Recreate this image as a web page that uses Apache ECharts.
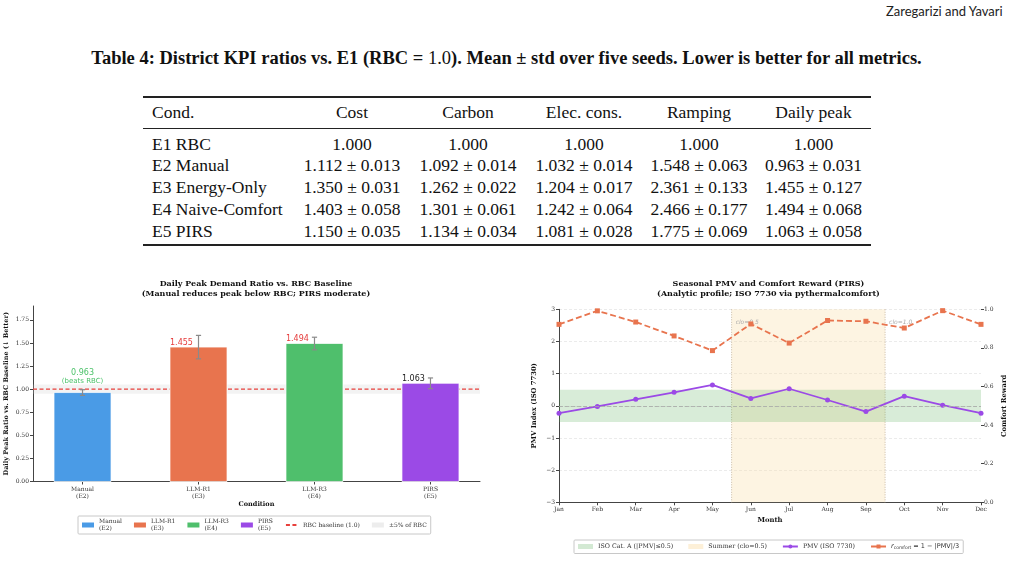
<!DOCTYPE html>
<html>
<head>
<meta charset="utf-8">
<script src="https://cdn.jsdelivr.net/npm/echarts@6/dist/echarts.min.js"></script>
<style>
  html,body{margin:0;padding:0;background:#fff;}
  #page{position:relative;width:1017px;height:561px;background:#fff;overflow:hidden;}
  .cell{position:absolute;white-space:nowrap;font-family:'Liberation Serif',serif;font-size:17.5px;color:#111;line-height:22px;height:22px;}
  .rule{position:absolute;left:143px;width:728px;background:#222;}
</style>
</head>
<body>
<div id="page">
  <div id="hdr" style="position:absolute;left:886px;top:3px;font-family:Lato,sans-serif;font-size:13px;color:#222;white-space:nowrap;">Zaregarizi and Yavari</div>
  <div id="caption" style="position:absolute;left:0;width:1013px;top:48px;text-align:center;font-family:'Liberation Serif',serif;font-weight:bold;font-size:18.5px;color:#111;white-space:nowrap;">Table 4: District KPI ratios vs. E1 (RBC = <span style="font-weight:normal">1.0</span>). Mean ± std over five seeds. Lower is better for all metrics.</div>
  <div id="table"></div>
  <div id="left" style="position:absolute;left:0;top:270px;width:512px;height:291px;"></div>
  <div id="right" style="position:absolute;left:520px;top:270px;width:497px;height:291px;"></div>
</div>
<script>
// ---------------- Table data ----------------
const tableColumns = ['Cond.', 'Cost', 'Carbon', 'Elec. cons.', 'Ramping', 'Daily peak'];
const tableConds = ['E1 RBC', 'E2 Manual', 'E3 Energy-Only', 'E4 Naive-Comfort', 'E5 PIRS'];
const costCol = ['1.000', '1.112 ± 0.013', '1.350 ± 0.031', '1.403 ± 0.058', '1.150 ± 0.035'];
const carbonCol = ['1.000', '1.092 ± 0.014', '1.262 ± 0.022', '1.301 ± 0.061', '1.134 ± 0.034'];
const elecCol = ['1.000', '1.032 ± 0.014', '1.204 ± 0.017', '1.242 ± 0.064', '1.081 ± 0.028'];
const rampCol = ['1.000', '1.548 ± 0.063', '2.361 ± 0.133', '2.466 ± 0.177', '1.775 ± 0.069'];
const peakCol = ['1.000', '0.963 ± 0.031', '1.455 ± 0.127', '1.494 ± 0.068', '1.063 ± 0.058'];

// ---------------- Left chart data ----------------
const conditions = ['Manual\n(E2)', 'LLM-R1\n(E3)', 'LLM-R3\n(E4)', 'PIRS\n(E5)'];
const peakRatio = [0.963, 1.455, 1.494, 1.063];
const peakStd = [0.031, 0.127, 0.068, 0.058];
const peakNotes = ['(beats RBC)', '', '', ''];
const leftYTicks = [0, 0.25, 0.5, 0.75, 1.0, 1.25, 1.5, 1.75];
const rbcBaseline = 1.0;
const rbcBand = [0.95, 1.05];

// ---------------- Right chart data ----------------
const months = ['Jan', 'Feb', 'Mar', 'Apr', 'May', 'Jun', 'Jul', 'Aug', 'Sep', 'Oct', 'Nov', 'Dec'];
const pmv = [-0.23, -0.02, 0.20, 0.42, 0.65, 0.23, 0.53, 0.18, -0.18, 0.30, 0.02, -0.23];
const comfortReward = [0.922, 0.992, 0.934, 0.862, 0.786, 0.924, 0.825, 0.942, 0.938, 0.903, 0.993, 0.922];
const comfortBand = [-0.5, 0.5];
const summerRange = [4.5, 8.5];
const cloLabels = ['clo=0.5', 'clo=1.0'];

// ---------------- Build table ----------------
(function () {
  const t = document.getElementById('table');
  const colLefts = [143, 294, 410, 526, 642, 756];
  const colWidths = [151, 116, 116, 116, 114, 115];
  const cols = [tableConds, costCol, carbonCol, elecCol, rampCol, peakCol];
  function addCell(text, ci, cy) {
    const d = document.createElement('div');
    d.className = 'cell';
    d.textContent = text;
    d.style.top = (cy - 11) + 'px';
    if (ci === 0) {
      d.style.left = (colLefts[0] + 9) + 'px';
    } else {
      d.style.left = colLefts[ci] + 'px';
      d.style.width = colWidths[ci] + 'px';
      d.style.textAlign = 'center';
    }
    t.appendChild(d);
  }
  tableColumns.forEach((h, ci) => addCell(h, ci, 112));
  for (let r = 0; r < tableConds.length; r++) {
    const cy = 143.5 + r * 21.9;
    cols.forEach((col, ci) => addCell(col[r], ci, cy));
  }
  [[96, 1.6], [127.5, 0.9], [244, 1.6]].forEach(([y, h]) => {
    const d = document.createElement('div');
    d.className = 'rule';
    d.style.top = y + 'px';
    d.style.height = h + 'px';
    t.appendChild(d);
  });
})();

const SERIF = 'DejaVu Serif';
const SANS = 'DejaVu Sans';

// ---------------- Left chart ----------------
const barColors = ['#4a9be6', '#e8744e', '#4fbf6c', '#9b4ae6'];
const labelColors = ['#4cc26a', '#e53c3c', '#e53c3c', '#222222'];
const BAR_W = 57;

const leftChart = echarts.init(document.getElementById('left'));
const barSeries = peakRatio.map((v, i) => ({
  type: 'custom', name: conditions[i],
  data: [[i, v, peakStd[i]]],
  encode: {x: 0, y: 1},
  itemStyle: {color: barColors[i]},
  renderItem: (params, api) => {
    const x = api.value(0), val = api.value(1), sd = api.value(2);
    const base = api.coord([x, 0]);
    const top = api.coord([x, val]);
    const lo = api.coord([x, val - sd]);
    const hi = api.coord([x, val + sd]);
    const left = base[0] - BAR_W / 2;
    const c = 2.6;
    const st = {stroke: '#8a8a8a', lineWidth: 1.2};
    const children = [
      {type: 'rect', shape: {x: left, y: top[1], width: BAR_W, height: base[1] - top[1]},
        style: {fill: barColors[i], stroke: 'rgba(255,255,255,0.7)', lineWidth: 1}},
      {type: 'line', shape: {x1: lo[0], y1: lo[1], x2: hi[0], y2: hi[1]}, style: st},
      {type: 'line', shape: {x1: lo[0] - c, y1: lo[1], x2: lo[0] + c, y2: lo[1]}, style: st},
      {type: 'line', shape: {x1: hi[0] - c, y1: hi[1], x2: hi[0] + c, y2: hi[1]}, style: st}
    ];
    const txt = val.toFixed(3);
    if (peakNotes[i]) {
      children.push({type: 'text', x: base[0], y: top[1] - 19.5,
        style: {text: txt, fontFamily: SANS, fontSize: 8, fill: labelColors[i], align: 'center', verticalAlign: 'middle'}});
      children.push({type: 'text', x: base[0], y: top[1] - 11.5,
        style: {text: peakNotes[i], fontFamily: SANS, fontSize: 7, fill: labelColors[i], align: 'center', verticalAlign: 'middle'}});
    } else {
      children.push({type: 'text', x: left, y: top[1] - 0.5,
        style: {text: txt, fontFamily: SANS, fontSize: 8, fill: labelColors[i], align: 'left', verticalAlign: 'bottom'}});
    }
    return {type: 'group', children};
  },
  z: 3, silent: true
}));

leftChart.setOption({
  animation: false,
  title: {
    text: 'Daily Peak Demand Ratio vs. RBC Baseline\n(Manual reduces peak below RBC; PIRS moderate)',
    left: 'center', top: 8.5, padding: 0,
    textStyle: {fontFamily: SERIF, fontWeight: 'bold', fontSize: 8, lineHeight: 10.5, color: '#111'}
  },
  grid: {left: 33, top: 36, width: 447, height: 175.5, containLabel: false, outerBoundsMode: 'none'},
  legend: {
    left: 78, top: 246, orient: 'horizontal',
    data: [...conditions.map(n => ({name: n, icon: 'rect'})), {name: 'RBC baseline (1.0)'}, {name: '±5% of RBC', icon: 'rect'}],
    itemWidth: 12, itemHeight: 5, itemGap: 12,
    borderColor: '#c8c8c8', borderWidth: 1, borderRadius: 1, padding: [2, 4],
    textStyle: {fontFamily: SERIF, fontSize: 6, color: '#333', lineHeight: 7}
  },
  xAxis: {
    type: 'value', min: -0.427, max: 3.427,
    axisLine: {show: true, onZero: false, lineStyle: {color: '#444', width: 1}},
    axisTick: {show: true, customValues: [0, 1, 2, 3], length: 3, lineStyle: {color: '#444'}},
    axisLabel: {customValues: [0, 1, 2, 3], formatter: v => conditions[Math.round(v)], fontFamily: SERIF, fontSize: 6, lineHeight: 7, color: '#333', margin: 4},
    splitLine: {show: false},
    name: 'Condition', nameLocation: 'middle', nameGap: 19, nameMoveOverlap: false,
    nameTextStyle: {fontFamily: SERIF, fontWeight: 'bold', fontSize: 6.5, color: '#111'}
  },
  yAxis: {
    type: 'value', min: 0, max: 1.9,
    axisLine: {show: true, onZero: false, lineStyle: {color: '#444', width: 1}},
    axisTick: {show: true, customValues: leftYTicks, length: 3, lineStyle: {color: '#444'}},
    axisLabel: {customValues: leftYTicks, formatter: v => v.toFixed(2), fontFamily: SERIF, fontSize: 6, color: '#333', margin: 4},
    splitLine: {show: false},
    name: 'Daily Peak Ratio vs. RBC Baseline (↓ Better)', nameLocation: 'middle', nameGap: 23, nameMoveOverlap: false,
    nameTextStyle: {fontFamily: SERIF, fontWeight: 'bold', fontSize: 6.5, color: '#111'}
  },
  series: [
    {
      type: 'custom', name: '±5% of RBC',
      data: [[0, rbcBand[0], rbcBand[1]]],
      encode: {x: 0, y: [1, 2]},
      itemStyle: {color: '#ededed'},
      renderItem: (params, api) => {
        const cs = params.coordSys;
        const top = api.coord([0, api.value(2)])[1];
        const bot = api.coord([0, api.value(1)])[1];
        return {type: 'rect', shape: {x: cs.x, y: top, width: cs.width, height: bot - top}, style: {fill: 'rgba(200,200,200,0.22)'}};
      },
      z: 1, silent: true
    },
    {
      type: 'line', name: 'RBC baseline (1.0)',
      data: [[-0.427, rbcBaseline], [3.427, rbcBaseline]],
      symbol: 'rect', showSymbol: false,
      lineStyle: {color: '#e8403c', type: [4, 2.5], width: 1.2},
      itemStyle: {color: 'rgba(0,0,0,0)'},
      z: 2, silent: true
    },
    ...barSeries
  ]
});

// ---------------- Right chart ----------------
const rightChart = echarts.init(document.getElementById('right'));
const rName = 'rcomfort';
function catX(api, v) {
  const a = Math.floor(v), b = Math.ceil(v);
  const xa = api.coord([a, 0])[0];
  if (a === b) return xa;
  const xb = api.coord([b, 0])[0];
  return xa + (xb - xa) * (v - a);
}
rightChart.setOption({
  animation: false,
  title: {
    text: 'Seasonal PMV and Comfort Reward (PIRS)\n(Analytic profile; ISO 7730 via pythermalcomfort)',
    left: 'center', top: 8.5, padding: 0,
    textStyle: {fontFamily: SERIF, fontWeight: 'bold', fontSize: 8, lineHeight: 10.5, color: '#111'}
  },
  grid: {left: 39, top: 39.3, width: 422, height: 193, containLabel: false, outerBoundsMode: 'none'},
  legend: {
    left: 54, top: 270, orient: 'horizontal',
    data: [
      {name: 'ISO Cat. A (|PMV|≤0.5)', icon: 'rect'},
      {name: 'Summer (clo=0.5)', icon: 'rect'},
      {name: 'PMV (ISO 7730)'},
      {name: rName}
    ],
    itemWidth: 15, itemHeight: 5, itemGap: 15,
    borderColor: '#c8c8c8', borderWidth: 1, borderRadius: 1, padding: [3, 4],
    formatter: n => n === rName ? '{i|r}{s|comfort}{t| = 1 − |PMV|/3}' : n,
    textStyle: {
      fontFamily: SERIF, fontSize: 6.3, color: '#333',
      rich: {
        i: {fontFamily: SANS, fontStyle: 'italic', fontSize: 6.5, color: '#333'},
        s: {fontFamily: SANS, fontSize: 4.5, color: '#333', verticalAlign: 'bottom', padding: [3, 0, 0, 0]},
        t: {fontFamily: SANS, fontSize: 6.5, color: '#333'}
      }
    }
  },
  xAxis: {
    type: 'category', data: months, boundaryGap: false,
    axisLine: {show: true, onZero: false, lineStyle: {color: '#444', width: 1}},
    axisTick: {show: true, length: 3, alignWithLabel: true, lineStyle: {color: '#444'}},
    axisLabel: {fontFamily: SERIF, fontSize: 6, color: '#333', margin: 4, interval: 0},
    splitLine: {show: false},
    name: 'Month', nameLocation: 'middle', nameGap: 14.5, nameMoveOverlap: false,
    nameTextStyle: {fontFamily: SERIF, fontWeight: 'bold', fontSize: 6.8, color: '#111'}
  },
  yAxis: [
    {
      type: 'value', min: -3, max: 3, interval: 1,
      axisLine: {show: true, onZero: false, lineStyle: {color: '#444', width: 1}},
      axisTick: {show: true, length: 3, lineStyle: {color: '#444'}},
      axisLabel: {fontFamily: SERIF, fontSize: 6, color: '#333', margin: 4, formatter: v => v < 0 ? '−' + Math.abs(v) : String(v)},
      splitLine: {show: true, lineStyle: {color: '#e6e6e6', type: [3, 2], width: 0.8}},
      name: 'PMV Index (ISO 7730)', nameLocation: 'middle', nameGap: 21, nameMoveOverlap: false,
      nameTextStyle: {fontFamily: SERIF, fontWeight: 'bold', fontSize: 6.8, color: '#111'}
    },
    {
      type: 'value', min: 0, max: 1, interval: 0.2, position: 'right',
      axisLine: {show: false, onZero: false},
      axisTick: {show: true, length: 3, lineStyle: {color: '#444'}},
      axisLabel: {fontFamily: SERIF, fontSize: 6, color: '#333', margin: 3, formatter: v => v.toFixed(1)},
      splitLine: {show: false},
      name: 'Comfort Reward', nameLocation: 'middle', nameGap: 20, nameMoveOverlap: false,
      nameTextStyle: {fontFamily: SERIF, fontWeight: 'bold', fontSize: 6.8, color: '#111'}
    }
  ],
  series: [
    {
      type: 'custom', name: 'Summer (clo=0.5)',
      data: [[summerRange[0], summerRange[1]]],
      encode: {x: [0, 1]},
      itemStyle: {color: '#fdf0d8'},
      renderItem: (params, api) => {
        const cs = params.coordSys;
        const x0 = catX(api, summerRange[0]);
        const x1 = catX(api, summerRange[1]);
        const ty = api.coord([0, 2.6])[1];
        const st = {stroke: '#c9b9a3', lineWidth: 1, lineDash: [1, 1.5]};
        return {
          type: 'group', children: [
            {type: 'rect', shape: {x: x0, y: cs.y, width: x1 - x0, height: cs.height}, style: {fill: 'rgba(250,222,165,0.32)'}},
            {type: 'line', shape: {x1: x0, y1: cs.y, x2: x0, y2: cs.y + cs.height}, style: st},
            {type: 'line', shape: {x1: x1, y1: cs.y, x2: x1, y2: cs.y + cs.height}, style: st},
            {type: 'text', x: x0 + 4, y: ty, style: {text: cloLabels[0], fontFamily: SANS, fontStyle: 'italic', fontSize: 6, fill: '#aaa', verticalAlign: 'middle'}},
            {type: 'text', x: x1 + 4, y: ty, style: {text: cloLabels[1], fontFamily: SANS, fontStyle: 'italic', fontSize: 6, fill: '#aaa', verticalAlign: 'middle'}}
          ]
        };
      },
      z: 1, silent: true
    },
    {
      type: 'custom', name: 'ISO Cat. A (|PMV|≤0.5)',
      data: [[0, comfortBand[0], comfortBand[1]]],
      encode: {x: 0, y: [1, 2]},
      itemStyle: {color: '#d3e9d3'},
      renderItem: (params, api) => {
        const cs = params.coordSys;
        const top = api.coord([0, api.value(2)])[1];
        const bot = api.coord([0, api.value(1)])[1];
        return {type: 'rect', shape: {x: cs.x, y: top, width: cs.width, height: bot - top}, style: {fill: 'rgba(76,170,76,0.22)'}};
      },
      z: 2, silent: true
    },
    {
      type: 'line', name: 'PMV (ISO 7730)', yAxisIndex: 0,
      data: pmv,
      symbol: 'circle', symbolSize: 5,
      lineStyle: {color: '#9b4ae6', width: 1.8},
      itemStyle: {color: '#9b4ae6'},
      markLine: {
        silent: true, symbol: 'none', label: {show: false},
        lineStyle: {color: '#a8a8a8', type: [4, 2], width: 0.8},
        data: [{yAxis: 0}]
      },
      z: 4
    },
    {
      type: 'line', name: rName, yAxisIndex: 1,
      data: comfortReward,
      symbol: 'rect', symbolSize: 5,
      lineStyle: {color: '#e8744e', width: 1.8, type: [6, 3]},
      itemStyle: {color: '#e8744e'},
      z: 4
    }
  ]
});
</script>
</body>
</html>
